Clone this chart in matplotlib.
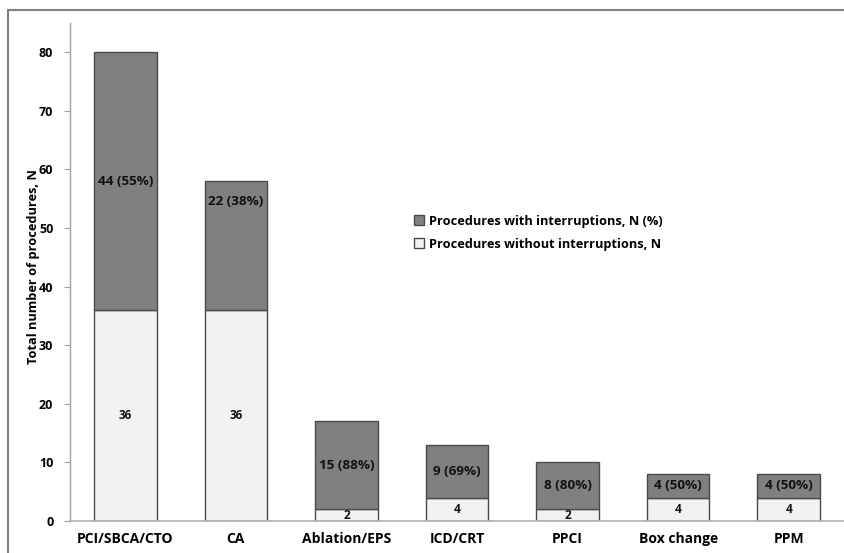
import matplotlib
matplotlib.use("Agg")
import matplotlib.pyplot as plt
import numpy as np
from matplotlib.patches import Patch, Rectangle

plt.rcParams['font.family'] = ['Open Sans', 'DejaVu Sans']
plt.rcParams['font.weight'] = 'bold'

categories = ["PCI/SBCA/CTO", "CA", "Ablation/EPS", "ICD/CRT", "PPCI", "Box change", "PPM"]
without_int = [36, 36, 2, 4, 2, 4, 4]
with_int = [44, 22, 15, 9, 8, 4, 4]
with_pct = [55, 38, 88, 69, 80, 50, 50]

dark = "#808080"
light = "#F2F2F2"
edge = "#4a4a4a"

fig = plt.figure(figsize=(8.44, 5.53), dpi=100)
ax = fig.add_axes([70/844, 1-521/553, 1-70/844, (521-23)/553])

x = np.arange(len(categories))
w = 0.566
ax.bar(x, without_int, w, color=light, edgecolor=edge, linewidth=1.0)
ax.bar(x, with_int, w, bottom=without_int, color=dark, edgecolor=edge, linewidth=1.0)

for i in range(len(categories)):
    ax.text(x[i], without_int[i]/2, str(without_int[i]), ha='center', va='center',
            fontsize=8.5, fontweight='bold', color='#111111')
    ymid = without_int[i] + with_int[i]/2
    if categories[i] == "CA":
        ymid = 54.5
    ax.text(x[i], ymid, "%d (%d%%)" % (with_int[i], with_pct[i]), ha='center', va='center',
            fontsize=9.7, fontweight='bold', color='#111111')

ax.set_xlim(-0.5, 6.5)
ax.set_ylim(0, 85)
ax.set_yticks(range(0, 81, 10))
ax.set_xticks(x)
ax.set_xticklabels(categories, fontsize=10, fontweight='bold')
ax.tick_params(axis='x', length=0, pad=8)
ax.tick_params(axis='y', length=4, color='#a0a0a0', labelsize=9, pad=8)
for lab in ax.get_yticklabels():
    lab.set_fontweight('bold')
ax.set_ylabel("Total number of procedures, N", fontsize=9.2, fontweight='bold')
ax.yaxis.set_label_coords(-0.039, 0.51)

for s in ['top', 'right']:
    ax.spines[s].set_visible(False)
ax.spines['left'].set_color('#a0a0a0')
ax.spines['bottom'].set_color('#b0b0b0')
ax.spines['left'].set_linewidth(1.0)
ax.spines['bottom'].set_linewidth(1.2)

handles = [Patch(facecolor=dark, edgecolor=edge, label="Procedures with interruptions, N (%)"),
           Patch(facecolor=light, edgecolor=edge, label="Procedures without interruptions, N")]
leg = ax.legend(handles=handles, loc='upper left', frameon=False,
                fontsize=9.2, handlelength=0.8, handleheight=0.8, handletextpad=0.4, labelspacing=0.8)
leg.set_bbox_to_anchor((402/844, 1-203/553), transform=fig.transFigure)

fig.patches.append(Rectangle((8/844, -0.1), 1.2, 1-10/553+0.1, transform=fig.transFigure,
                             fill=False, edgecolor='#808080', linewidth=1.5))

fig.savefig("out.png", dpi=100)
